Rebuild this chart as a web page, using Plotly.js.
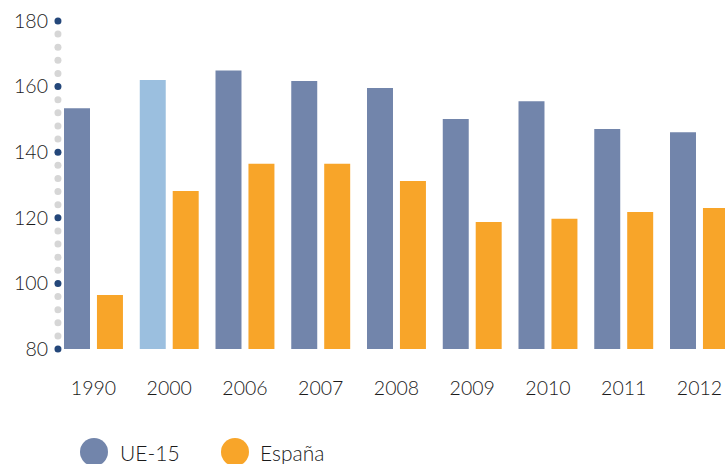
<!DOCTYPE html>
<html>
<head>
<meta charset="utf-8">
<script src="https://cdn.plot.ly/plotly-3.0.1.min.js"></script>
<style>html,body{margin:0;padding:0;background:#fff;}#chart{width:725px;height:464px;}</style>
</head>
<body>
<div id="chart"></div>
<script>
// ---- data ----
const years = ["1990", "2000", "2006", "2007", "2008", "2009", "2010", "2011", "2012"];
const ue15 = [153.4, 162, 164.9, 161.7, 159.6, 150.1, 155.5, 147.1, 146.1];
const espana = [96.5, 128.2, 136.5, 136.5, 131.2, 118.7, 119.7, 121.8, 123];
const seriesNames = ["UE-15", "España"];
const yTicks = [80, 100, 120, 140, 160, 180];

// ---- styles ----
const cUE = "#7285ab", cUElight = "#9bbfdf", cES = "#f8a529";
const cDark = "#24477a", cGrey = "#d6d6d6";
const fontFam = "Lato, 'Open Sans', sans-serif";
const tf = {family: fontFam, size: 19.5, color: "#1a1a1a", weight: 300};

const idx = years.map((_, i) => i);
const ueColors = years.map(y => y === "2000" ? cUElight : cUE);

// axis dots (decoration): minor every 4 units, major at the ticks
const minorY = [];
for (let v = yTicks[0]; v <= yTicks[yTicks.length - 1]; v += 4) if (!yTicks.includes(v)) minorY.push(v);

const axisX = -0.469;
const traces = [
  {type: "bar", x: idx, y: ue15.map(v => v - 80), base: 80, name: seriesNames[0],
   width: 0.343, offset: -0.389, marker: {color: ueColors}, hoverinfo: "skip"},
  {type: "bar", x: idx, y: espana.map(v => v - 80), base: 80, name: seriesNames[1],
   width: 0.343, offset: 0.046, marker: {color: cES}, hoverinfo: "skip"},
  {type: "scatter", mode: "markers", x: minorY.map(() => axisX), y: minorY,
   marker: {color: cGrey, size: 7}, cliponaxis: false, hoverinfo: "skip"},
  {type: "scatter", mode: "markers", x: yTicks.map(() => axisX), y: yTicks,
   marker: {color: cDark, size: 7}, cliponaxis: false, hoverinfo: "skip"}
];

const layout = {
  width: 725, height: 464,
  margin: {l: 50, r: 0, t: 21, b: 115},
  paper_bgcolor: "#fff", plot_bgcolor: "#fff",
  showlegend: false,
  barmode: "overlay",
  font: tf,
  xaxis: {type: "linear", range: [-0.574, 8.337], tickvals: idx, ticktext: years,
          showgrid: false, zeroline: false, showline: false, ticks: "",
          tickfont: tf, ticklabelstandoff: 25},
  yaxis: {range: [80, 180], tickvals: yTicks, showgrid: false, zeroline: false,
          showline: false, ticks: "", tickfont: tf, ticklabelstandoff: 1},
  shapes: [],
  annotations: []
};

// legend (manual, large circles)
const legendY = 452;
const legendItems = [{cx: 94, tx: 118, color: cUE, name: seriesNames[0]},
                     {cx: 235, tx: 258, color: cES, name: seriesNames[1]}];
const plotW = 725 - 50, plotH = 464 - 21 - 115;
legendItems.forEach(it => {
  const xp = (it.cx - 50) / plotW, yp = (464 - 115 - legendY) / plotH;
  layout.shapes.push({type: "circle", xref: "paper", yref: "paper",
    xsizemode: "pixel", ysizemode: "pixel", xanchor: xp, yanchor: yp,
    x0: -14, x1: 14, y0: -14, y1: 14, fillcolor: it.color, line: {width: 0}});
  layout.annotations.push({xref: "paper", yref: "paper", x: (it.tx - 50) / plotW, y: yp,
    xanchor: "left", yanchor: "middle", showarrow: false, text: it.name,
    font: {family: fontFam, size: 21, color: "#1a1a1a", weight: 300}});
});

Plotly.newPlot("chart", traces, layout, {displayModeBar: false, staticPlot: true});
</script>
</body>
</html>
